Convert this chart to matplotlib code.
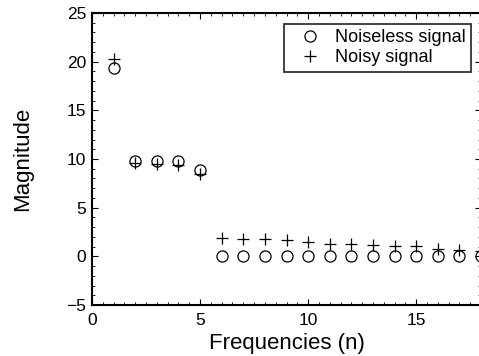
import numpy as np
import matplotlib
matplotlib.use('Agg')
import matplotlib.pyplot as plt
from matplotlib.ticker import MultipleLocator

plt.rcParams['font.family'] = ['Liberation Sans', 'DejaVu Sans']

# frequency index
n = list(range(1, 19))
# magnitude of the noiseless signal spectrum
noiseless = [19.3, 9.8, 9.8, 9.8, 8.9] + [0.0] * 13
# magnitude of the noisy signal spectrum
noisy = [20.3, 9.6, 9.5, 9.4, 8.5, 1.9, 1.75, 1.75, 1.7, 1.5,
         1.3, 1.3, 1.15, 1.1, 1.1, 0.8, 0.62, 0.5]

fig = plt.figure(figsize=(4.79, 3.56), dpi=100)
ax = fig.add_axes([92 / 479, 51 / 356, 389 / 479, 292 / 356])

ax.plot(n, noiseless, 'o', mfc='none', mec='black', ms=8, mew=0.9,
        label='Noiseless signal', clip_on=False)
ax.plot(n, noisy, '+', color='black', ms=8.5, mew=0.9,
        label='Noisy signal', clip_on=False)

ax.set_xlim(0, 18)
ax.set_ylim(-5, 25)
ax.xaxis.set_major_locator(MultipleLocator(5))
ax.xaxis.set_minor_locator(MultipleLocator(0.5))
ax.yaxis.set_major_locator(MultipleLocator(5))
ax.yaxis.set_minor_locator(MultipleLocator(1))
ax.tick_params(which='both', direction='in', top=True, right=True,
               labelsize=12.5)
ax.tick_params(axis='x', pad=6)
ax.tick_params(axis='y', pad=4)
ax.tick_params(which='major', length=4, width=0.8)
ax.tick_params(which='minor', length=2, width=0.6)
for s in ax.spines.values():
    s.set_linewidth(1.5)

ax.set_xlabel('Frequencies (n)', fontsize=16, labelpad=3)
ax.set_ylabel('Magnitude', fontsize=16, labelpad=24)

leg = ax.legend(loc='upper right', bbox_to_anchor=(1 - 10 / 389, 1 - 11 / 292),
                fontsize=13, frameon=True, fancybox=False, borderaxespad=0,
                handletextpad=0.3, borderpad=0.3, labelspacing=0.15,
                handlelength=2.2)
leg.get_frame().set_edgecolor('black')
leg.get_frame().set_linewidth(1.3)

fig.savefig('out.png', dpi=100)
